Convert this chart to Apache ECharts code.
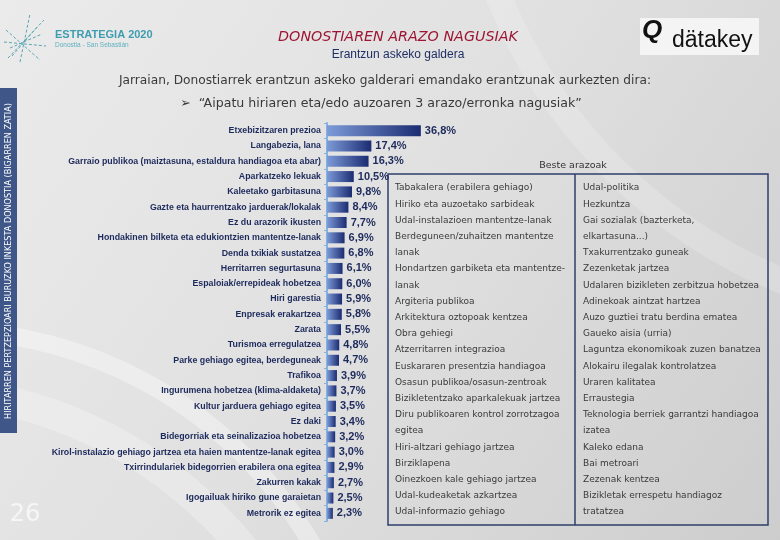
<!DOCTYPE html>
<html><head><meta charset="utf-8">
<script src="https://cdn.jsdelivr.net/npm/echarts@6/dist/echarts.min.js"></script>
<style>html,body{margin:0;padding:0;}#c{width:780px;height:540px;}</style>
</head><body><div id="c"></div>
<script>
const categories = ["Etxebizitzaren prezioa","Langabezia, lana","Garraio publikoa (maiztasuna, estaldura handiagoa eta abar)","Aparkatzeko lekuak","Kaleetako garbitasuna","Gazte eta haurrentzako jarduerak/lokalak","Ez du arazorik ikusten","Hondakinen bilketa eta edukiontzien mantentze-lanak","Denda txikiak sustatzea","Herritarren segurtasuna","Espaloiak/errepideak hobetzea","Hiri garestia","Enpresak erakartzea","Zarata","Turismoa erregulatzea","Parke gehiago egitea, berdeguneak","Trafikoa","Ingurumena hobetzea (klima-aldaketa)","Kultur jarduera gehiago egitea","Ez daki","Bidegorriak eta seinalizazioa hobetzea","Kirol-instalazio gehiago jartzea eta haien mantentze-lanak egitea","Txirrindulariek bidegorrien erabilera ona egitea","Zakurren kakak","Igogailuak hiriko gune garaietan","Metrorik ez egitea"];
const values = [36.8,17.4,16.3,10.5,9.8,8.4,7.7,6.9,6.8,6.1,6.0,5.9,5.8,5.5,4.8,4.7,3.9,3.7,3.5,3.4,3.2,3.0,2.9,2.7,2.5,2.3];
const otherLeft = ["Tabakalera (erabilera gehiago)","Hiriko eta auzoetako sarbideak","Udal-instalazioen mantentze-lanak","Berdeguneen/zuhaitzen mantentze","lanak","Hondartzen garbiketa eta mantentze-","lanak","Argiteria publikoa","Arkitektura oztopoak kentzea","Obra gehiegi","Atzerritarren integrazioa","Euskararen presentzia handiagoa","Osasun publikoa/osasun-zentroak","Bizikletentzako aparkalekuak jartzea","Diru publikoaren kontrol zorrotzagoa","egitea","Hiri-altzari gehiago jartzea","Birziklapena","Oinezkoen kale gehiago jartzea","Udal-kudeaketak azkartzea","Udal-informazio gehiago"];
const otherRight = ["Udal-politika","Hezkuntza","Gai sozialak (bazterketa,","elkartasuna...)","Txakurrentzako guneak","Zezenketak jartzea","Udalaren bizikleten zerbitzua hobetzea","Adinekoak aintzat hartzea","Auzo guztiei tratu berdina ematea","Gaueko aisia (urria)","Laguntza ekonomikoak zuzen banatzea","Alokairu ilegalak kontrolatzea","Uraren kalitatea","Erraustegia","Teknologia berriek garrantzi handiagoa","izatea","Kaleko edana","Bai metroari","Zezenak kentzea","Bizikletak errespetu handiagoz","tratatzea"];
const titleText = "DONOSTIAREN ARAZO NAGUSIAK";
const subtitleText = "Erantzun askeko galdera";
const introText = "Jarraian, Donostiarrek erantzun askeko galderari emandako erantzunak aurkezten dira:";
const questionText = "\u27A2  \u201CAipatu hiriaren eta/edo auzoaren 3 arazo/erronka nagusiak\u201D";
const tableTitle = "Beste arazoak";
const sideText = "HIRITARREN PERTZEPZIOARI BURUZKO INKESTA DONOSTIA (BIGARREN ZATIA)";
const pageNumber = "26";

const chart = echarts.init(document.getElementById('c'), null, {renderer:'canvas'});
const lab = "'Liberation Sans',Arial,sans-serif";
const tFont = "'DejaVu Sans',Verdana,sans-serif";

const graphics = [];
// background swooshes
graphics.push({type:'circle', shape:{cx:-60, cy:760, r:430}, style:{fill:'none', stroke:'rgba(255,255,255,0.35)', lineWidth:18}, silent:true, z:-10});
graphics.push({type:'circle', shape:{cx:-90, cy:820, r:430}, style:{fill:'none', stroke:'rgba(255,255,255,0.25)', lineWidth:30}, silent:true, z:-10});
graphics.push({type:'circle', shape:{cx:980, cy:-200, r:520}, style:{fill:'none', stroke:'rgba(255,255,255,0.18)', lineWidth:26}, silent:true, z:-10});
// side band
graphics.push({type:'rect', shape:{x:0, y:88, width:17, height:345}, style:{fill:'#3f5788'}, z:1});
graphics.push({type:'text', x:9, y:261, rotation:Math.PI/2, style:{text:sideText, fill:'#ffffff', font:"8.1px 'DejaVu Sans',sans-serif", align:'center', verticalAlign:'middle'}, z:2});
graphics.push({type:'text', x:25, y:515, style:{text:pageNumber, fill:'#f6f6f6', font:"24px 'DejaVu Sans',sans-serif", align:'center', verticalAlign:'middle'}, z:2});
// left logo
const lg = [[8,58,44,20],[4,42,46,46],[12,56,38,26],[6,30,40,60],[20,62,30,14],[10,48,42,34]];
lg.forEach(p=>graphics.push({type:'line', shape:{x1:p[0],y1:p[1],x2:p[2],y2:p[3]}, style:{stroke:'#5aa7b4', lineWidth:1, lineDash:[3,2]}, z:2}));
graphics.push({type:'text', x:55, y:35, style:{text:'ESTRATEGIA 2020', fill:'#3f9db0', font:"bold 11px 'Liberation Sans',sans-serif", verticalAlign:'middle'}, z:2});
graphics.push({type:'text', x:55, y:45, style:{text:'Donostia - San Sebastián', fill:'#5fb0bf', font:"6.5px 'Liberation Sans',sans-serif", verticalAlign:'middle'}, z:2});
// right logo
graphics.push({type:'rect', shape:{x:640, y:18, width:119, height:37}, style:{fill:'#f4f4f4'}, z:1});
graphics.push({type:'text', x:642, y:31, style:{text:'Q', fill:'#111', font:"italic bold 26px 'Liberation Sans',sans-serif", verticalAlign:'middle'}, z:2});
graphics.push({type:'text', x:672, y:41, style:{text:'dätakey', fill:'#111', font:"23px 'Liberation Sans',sans-serif", verticalAlign:'middle'}, z:2});
// titles
graphics.push({type:'text', x:398, y:37, style:{text:titleText, fill:'#9d1532', font:"italic 14.3px 'DejaVu Sans',sans-serif", align:'center', verticalAlign:'middle'}, z:2});
graphics.push({type:'text', x:398, y:55, style:{text:subtitleText, fill:'#1f2f63', font:"12px 'Liberation Sans',sans-serif", align:'center', verticalAlign:'middle'}, z:2});
graphics.push({type:'text', x:385, y:81, style:{text:introText, fill:'#3a3a3a', font:"12.2px 'DejaVu Sans',sans-serif", align:'center', verticalAlign:'middle'}, z:2});
graphics.push({type:'text', x:381, y:104, style:{text:questionText, fill:'#3a3a3a', font:"12.6px 'DejaVu Sans',sans-serif", align:'center', verticalAlign:'middle'}, z:2});
// table
graphics.push({type:'text', x:573, y:166, style:{text:tableTitle, fill:'#333', font:"9.5px "+tFont, align:'center', verticalAlign:'middle'}, z:2});
graphics.push({type:'rect', shape:{x:388, y:174, width:380, height:351}, style:{fill:'none', stroke:'#2e3f6b', lineWidth:1.5}, z:2});
graphics.push({type:'line', shape:{x1:575, y1:174, x2:575, y2:525}, style:{stroke:'#2e3f6b', lineWidth:1.5}, z:2});
otherLeft.forEach((t,i)=>graphics.push({type:'text', x:395, y:188+i*16.2, style:{text:t, fill:'#3a3a3a', font:"9px "+tFont, verticalAlign:'middle'}, z:2}));
otherRight.forEach((t,i)=>graphics.push({type:'text', x:583, y:188+i*16.2, style:{text:t, fill:'#3a3a3a', font:"9px "+tFont, verticalAlign:'middle'}, z:2}));

const option = {
  animation:false,
  backgroundColor:{type:'linear', x:0, y:0, x2:1, y2:1, colorStops:[{offset:0,color:'#ebebeb'},{offset:0.5,color:'#e0e0e0'},{offset:1,color:'#cdcdcd'}]},
  grid:{left:327, top:123, width:102, height:398, containLabel:false},
  xAxis:{type:'value', min:0, max:40, show:false},
  yAxis:{type:'category', data:categories, inverse:true,
    axisLine:{show:true, lineStyle:{color:'#86b2e0', width:2}},
    axisTick:{show:true, length:3, lineStyle:{color:'#86b2e0'}},
    axisLabel:{color:'#1d2a5c', fontSize:8.8, fontWeight:'bold', fontFamily:lab, margin:6, interval:0}},
  series:[{type:'bar', data:values, barWidth:11,
    itemStyle:{color:{type:'linear', x:0, y:0, x2:1, y2:0, colorStops:[{offset:0,color:'#7d9bd8'},{offset:1,color:'#1b2c72'}]}},
    label:{show:true, position:'right', distance:4, color:'#1d2a5c', fontSize:11, fontWeight:'bold', fontFamily:lab,
      formatter:p=>p.value.toFixed(1).replace('.',',')+'%'}}],
  graphic:graphics
};
chart.setOption(option);
</script></body></html>
